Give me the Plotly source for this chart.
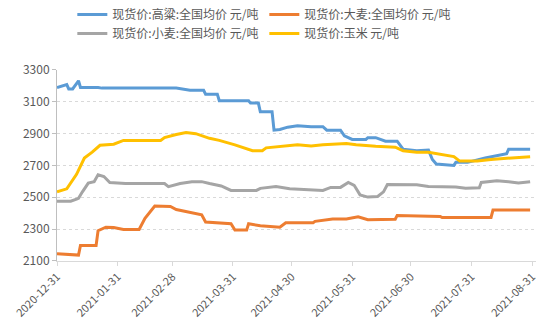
import plotly.graph_objects as go

# 现货价 (元/吨), breakpoints of each series
sorghum_dates = ["2020-12-31", "2021-01-05", "2021-01-06", "2021-01-08", "2021-01-11", "2021-01-12",
                 "2021-01-21", "2021-01-23", "2021-03-02", "2021-03-09", "2021-03-16", "2021-03-17",
                 "2021-03-23", "2021-03-24", "2021-04-08", "2021-04-09", "2021-04-13", "2021-04-14",
                 "2021-04-20", "2021-04-21", "2021-04-24", "2021-04-28", "2021-05-03", "2021-05-10",
                 "2021-05-16", "2021-05-18", "2021-05-25", "2021-05-27", "2021-05-31", "2021-06-07",
                 "2021-06-08", "2021-06-12", "2021-06-17", "2021-06-23", "2021-06-26", "2021-07-03",
                 "2021-07-09", "2021-07-11", "2021-07-13", "2021-07-22", "2021-07-23", "2021-07-29",
                 "2021-08-07", "2021-08-13", "2021-08-18", "2021-08-19", "2021-08-30"]
sorghum_vals = [3189, 3207, 3180, 3180, 3231, 3189,
                3189, 3185, 3185, 3171, 3171, 3147,
                3147, 3106, 3106, 3091, 3091, 3036,
                3036, 2921, 2925, 2940, 2949, 2943,
                2943, 2921, 2921, 2885, 2863, 2863,
                2874, 2874, 2852, 2852, 2802, 2792,
                2796, 2737, 2709, 2700, 2719, 2719,
                2746, 2759, 2774, 2802, 2802]

barley_dates = ["2020-12-31", "2021-01-05", "2021-01-11", "2021-01-12", "2021-01-20", "2021-01-21",
                "2021-01-25", "2021-01-29", "2021-02-03", "2021-02-11", "2021-02-14", "2021-02-19",
                "2021-02-25", "2021-02-27", "2021-03-02", "2021-03-09", "2021-03-15", "2021-03-17",
                "2021-03-24", "2021-03-30", "2021-04-01", "2021-04-07", "2021-04-08", "2021-04-14",
                "2021-04-24", "2021-04-27", "2021-05-11", "2021-05-12", "2021-05-21", "2021-05-28",
                "2021-06-03", "2021-06-08", "2021-06-22", "2021-06-23", "2021-07-15", "2021-07-16",
                "2021-08-10", "2021-08-11", "2021-08-30"]
barley_vals = [2146, 2142, 2137, 2198, 2198, 2290,
               2312, 2310, 2298, 2298, 2368, 2445,
               2445, 2442, 2423, 2405, 2390, 2345,
               2340, 2334, 2294, 2294, 2334, 2321,
               2312, 2340, 2340, 2349, 2364, 2364,
               2377, 2359, 2362, 2386, 2380, 2373,
               2373, 2420, 2420]

wheat_dates = ["2020-12-31", "2021-01-07", "2021-01-10", "2021-01-11", "2021-01-13", "2021-01-14",
               "2021-01-16", "2021-01-19", "2021-01-21", "2021-01-24", "2021-01-27", "2021-02-04",
               "2021-02-24", "2021-02-26", "2021-03-02", "2021-03-04", "2021-03-10", "2021-03-15",
               "2021-03-19", "2021-03-25", "2021-03-30", "2021-04-12", "2021-04-14", "2021-04-22",
               "2021-04-29", "2021-05-16", "2021-05-20", "2021-05-25", "2021-05-29", "2021-06-01",
               "2021-06-04", "2021-06-08", "2021-06-13", "2021-06-16", "2021-06-18", "2021-07-03",
               "2021-07-09", "2021-07-23", "2021-07-28", "2021-08-04", "2021-08-05", "2021-08-13",
               "2021-08-19", "2021-08-24", "2021-08-30"]
wheat_vals = [2475, 2475, 2488, 2493, 2534, 2553,
              2589, 2598, 2641, 2630, 2593, 2586,
              2586, 2567, 2580, 2586, 2598, 2598,
              2586, 2571, 2543, 2543, 2556, 2567,
              2553, 2543, 2562, 2562, 2593, 2575,
              2515, 2501, 2505, 2534, 2580, 2578,
              2567, 2565, 2556, 2560, 2593, 2604,
              2598, 2589, 2598]

corn_dates = ["2020-12-31", "2021-01-05", "2021-01-10", "2021-01-14", "2021-01-18", "2021-01-22",
              "2021-01-29", "2021-02-03", "2021-02-22", "2021-02-24", "2021-03-02", "2021-03-07",
              "2021-03-12", "2021-03-19", "2021-03-24", "2021-04-01", "2021-04-10", "2021-04-15",
              "2021-04-17", "2021-04-24", "2021-05-03", "2021-05-10", "2021-05-16", "2021-05-28",
              "2021-06-02", "2021-06-12", "2021-06-22", "2021-06-26", "2021-07-03", "2021-07-09",
              "2021-07-17", "2021-07-22", "2021-07-25", "2021-08-03", "2021-08-10", "2021-08-19",
              "2021-08-30"]
corn_vals = [2534, 2553, 2644, 2746, 2783, 2826,
             2833, 2857, 2857, 2875, 2894, 2907,
             2899, 2870, 2857, 2829, 2792, 2792,
             2810, 2820, 2830, 2822, 2829, 2838,
             2829, 2820, 2814, 2792, 2783, 2783,
             2765, 2755, 2727, 2727, 2737, 2746,
             2755]

tick_dates = ["2020-12-31", "2021-01-31", "2021-02-28", "2021-03-31", "2021-04-30",
              "2021-05-31", "2021-06-30", "2021-07-31", "2021-08-31"]

series = [
    ("现货价:高粱:全国均价 元/吨", sorghum_dates, sorghum_vals, "#5b9bd5"),
    ("现货价:大麦:全国均价 元/吨", barley_dates, barley_vals, "#ed7d31"),
    ("现货价:小麦:全国均价 元/吨", wheat_dates, wheat_vals, "#a5a5a5"),
    ("现货价:玉米 元/吨", corn_dates, corn_vals, "#ffc000"),
]

FONT = "Noto Sans CJK SC"
TXT = "#595959"

fig = go.Figure()
for name, d, v, c in series:
    fig.add_trace(go.Scatter(x=d, y=v, name=name, mode="lines",
                             line=dict(color=c, width=3)))

fig.update_layout(
    width=550, height=332,
    margin=dict(l=42, r=12, t=48, b=67),
    paper_bgcolor="white", plot_bgcolor="white",
    font=dict(family=FONT, size=12, color=TXT),
    showlegend=True,
    legend=dict(orientation="h", x=0.032, xanchor="left", y=1.0, yref="container",
                yanchor="top", entrywidth=147, entrywidthmode="pixels",
                font=dict(family=FONT, size=12, color=TXT), tracegroupgap=0,
                bgcolor="rgba(0,0,0,0)"),
    xaxis=dict(type="date", range=["2020-12-31", "2021-09-02"],
               tickvals=tick_dates, ticktext=tick_dates, tickangle=-45,
               showgrid=False, showline=True, linecolor="#d9d9d9", linewidth=1,
               ticks="outside", ticklen=4, tickcolor="#d9d9d9",
               tickfont=dict(family=FONT, size=11, color=TXT), zeroline=False),
    yaxis=dict(range=[2100, 3300], tickvals=[2100, 2300, 2500, 2700, 2900, 3100, 3300],
               showgrid=True, gridcolor="#d9d9d9", griddash="dot", gridwidth=1,
               showline=True, linecolor="#bfbfbf", linewidth=1,
               ticks="outside", ticklen=4, tickcolor="#bfbfbf",
               tickfont=dict(family=FONT, size=12, color=TXT), zeroline=False),
)

fig.write_html("out.html")
